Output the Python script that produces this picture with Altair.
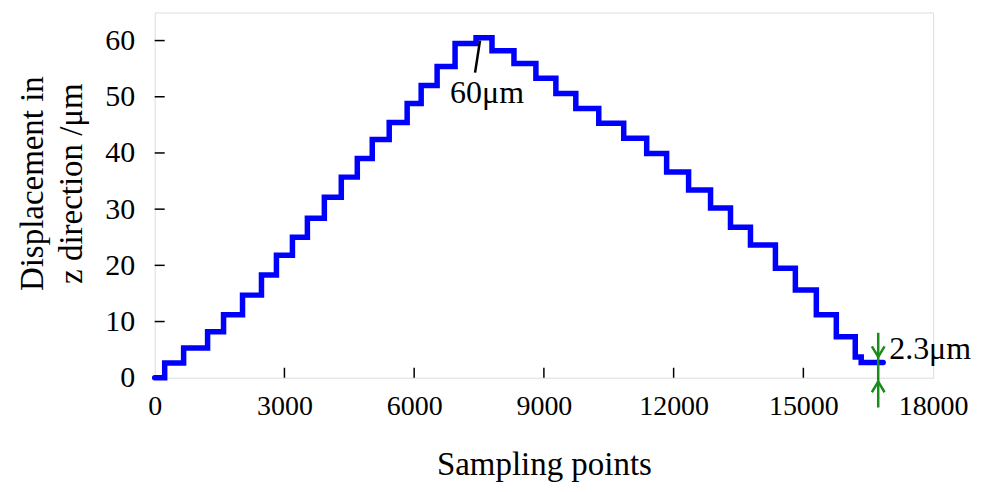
import altair as alt
import pandas as pd

# staircase corner points (step-after): sampling point index, displacement (um)
step_x = [0, 231, 669, 1223, 1592, 2031, 2469, 2815, 3185, 3531, 3923, 4315,
          4685, 5031, 5423, 5838, 6162, 6531, 6946, 7431, 7800, 8308, 8815,
          9277, 9738, 10269, 10846, 11377, 11838, 12346, 12854, 13315, 13777,
          14354, 14815, 15300, 15762, 16200, 16338, 16846]
step_y = [0.0, 2.6, 5.3, 8.2, 11.2, 14.7, 18.3, 21.8, 25.0, 28.4, 32.1, 35.7,
          39.0, 42.4, 45.4, 48.8, 52.0, 55.4, 59.5, 60.5, 58.2, 55.9, 53.3,
          50.6, 47.9, 45.3, 42.6, 39.9, 36.6, 33.4, 30.2, 26.8, 23.6,
          19.5, 15.6, 11.2, 7.3, 3.7, 2.7, 2.7]

x_ticks = [0, 3000, 6000, 9000, 12000, 15000, 18000]
y_ticks = [0, 10, 20, 30, 40, 50, 60]
x_inner_ticks = [3000, 6000, 9000, 12000, 15000]
y_inner_ticks = [10, 20, 30, 40, 50, 60]

# annotations
peak_label = {"x": 7685, "y": 50.6, "text": "60μm"}
peak_pointer_x = [7523, 7408]
peak_pointer_y = [60.0, 54.3]
end_label = {"x": 16985, "y": 5.15, "text": "2.3μm"}
gap_x = 16731
gap_top, gap_bottom = 8.0, -5.3
arrow_down_tip, arrow_up_tip = 3.7, -0.7

W, H = 780, 366
FONT = "Liberation Serif"
GREEN = "#1a8c1a"

X = alt.X("x:Q", scale=alt.Scale(domain=[0, 18000], nice=False, zero=False),
          axis=alt.Axis(values=x_ticks, title="Sampling points", format="d",
                        ticks=False, tickSize=0, domain=False, grid=False,
                        labelPadding=15, titlePadding=28,
                        labelFontSize=28, titleFontSize=33,
                        labelFont=FONT, titleFont=FONT,
                        labelColor="black", titleColor="black",
                        titleFontWeight="normal", labelFlush=False))
Y = alt.Y("y:Q", scale=alt.Scale(domain=[0, 65], nice=False, zero=False),
          axis=alt.Axis(values=y_ticks, title=["Displacement in", "z direction /μm"],
                        ticks=False, tickSize=0, domain=False, grid=False,
                        labelPadding=20, titlePadding=16,
                        labelFontSize=30, titleFontSize=33,
                        labelFont=FONT, titleFont=FONT,
                        labelColor="black", titleColor="black",
                        titleFontWeight="normal", titleLineHeight=39,
                        titleY=171, labelFlush=False))

line_df = pd.DataFrame({"x": step_x, "y": step_y})
line = alt.Chart(line_df).mark_line(
    interpolate="step-after", color="#0000ff", strokeWidth=5.5, strokeCap="round"
).encode(x=X, y=Y)

xt = alt.Chart(pd.DataFrame({"x": x_inner_ticks})).mark_rule(
    color="black", strokeWidth=1.5
).encode(x=X, y=alt.value(H), y2=alt.value(H - 10))

yt = alt.Chart(pd.DataFrame({"y": y_inner_ticks})).mark_rule(
    color="black", strokeWidth=1.5
).encode(y=Y, x=alt.value(0), x2=alt.value(10))

pointer = alt.Chart(pd.DataFrame({"x": peak_pointer_x, "y": peak_pointer_y})).mark_line(
    color="black", strokeWidth=2.5
).encode(x=X, y=Y)

labels = alt.Chart(pd.DataFrame([peak_label])).mark_text(
    font=FONT, fontSize=32, color="black", align="center", baseline="middle"
).encode(x=X, y=Y, text="text:N")

end_text = alt.Chart(pd.DataFrame([end_label])).mark_text(
    font=FONT, fontSize=32, color="black", align="left", baseline="middle"
).encode(x=X, y=Y, text="text:N")

gap = alt.Chart(pd.DataFrame({"x": [gap_x], "y": [gap_top], "y2": [gap_bottom]})).mark_rule(
    color=GREEN, strokeWidth=2.5
).encode(x=X, y=Y, y2="y2:Q")

arrow_dn = alt.Chart(pd.DataFrame({"x": [gap_x], "y": [arrow_down_tip]})).mark_point(
    shape="M -0.6 -1 L 0 0 L 0.6 -1", size=450, filled=False, color=GREEN,
    strokeWidth=2.5, opacity=1
).encode(x=X, y=Y)

arrow_up = alt.Chart(pd.DataFrame({"x": [gap_x], "y": [arrow_up_tip]})).mark_point(
    shape="M -0.6 1 L 0 0 L 0.6 1", size=450, filled=False, color=GREEN,
    strokeWidth=2.5, opacity=1
).encode(x=X, y=Y)

chart = alt.layer(xt, yt, line, pointer, labels, end_text, gap, arrow_dn, arrow_up).properties(
    width=W, height=H, padding={"left": 9, "top": 4, "right": 5, "bottom": 0}
).configure_view(stroke="black", strokeWidth=1.5).configure(background="white")

chart.save("out.html", embed_options={"renderer": "svg", "actions": False})
